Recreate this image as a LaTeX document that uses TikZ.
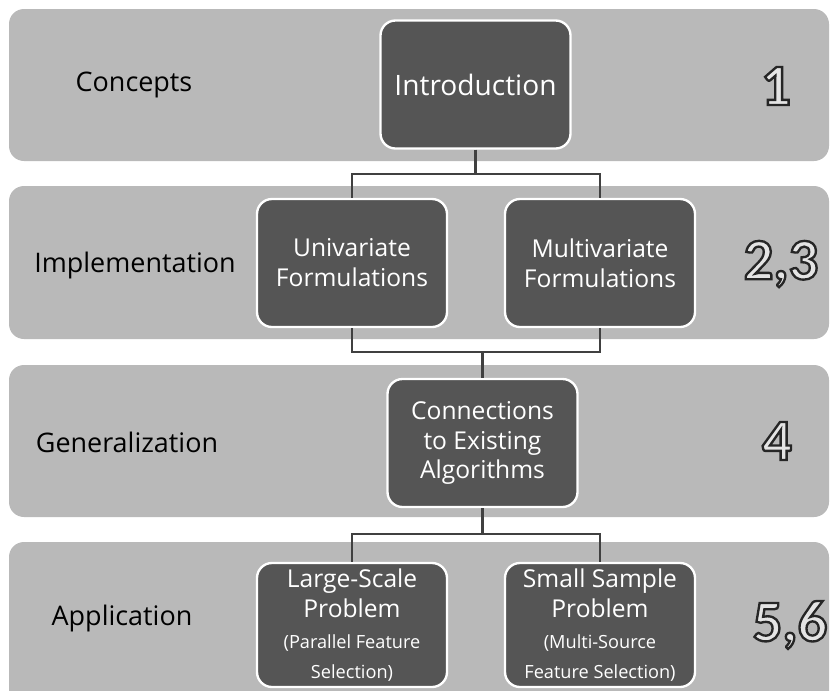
\documentclass[tikz,border=0pt]{standalone}
\usepackage{fontspec}
\setmainfont{Open Sans}
\newfontfamily\numfont{Carlito Bold}
\usepackage{xcolor}
\usetikzlibrary{positioning}

\definecolor{bandgray}{HTML}{B9B9B9}
\definecolor{boxgray}{HTML}{555555}
\definecolor{linkgray}{HTML}{404040}
\definecolor{numfill}{HTML}{E4E4E4}

\newcommand{\subfnt}{\fontsize{15.5}{19.5}\selectfont}
% hollow digits: fill light, stroke dark
\newcommand{\hollow}[1]{\textcolor{numfill}{\special{pdf:literal direct 2 Tr 2 w 0.15 G}#1\special{pdf:literal direct 0 Tr}}}

\begin{document}
\begin{tikzpicture}[x=0.03cm,y=-0.03cm,
    band/.style={fill=bandgray,rounded corners=0.45cm},
    topic/.style={font=\fontsize{23}{27}\selectfont},
    box/.style={draw=white,line width=2pt,fill=boxgray,rounded corners=0.45cm,
        text=white,align=center,minimum width=5.7cm,minimum height=3.84cm,
        inner sep=2pt,font=\fontsize{21}{25.5}\selectfont},
    chap/.style={font=\numfont\fontsize{50}{54}\selectfont},
    link/.style={draw=linkgray,line width=2.5pt}]

\useasboundingbox (0,0) rectangle (831,690);

%bands
\fill[band] (9,9) rectangle (829,161);
\fill[band] (9,186) rectangle (829,339);
\fill[band] (9,365) rectangle (829,517);
\fill[band] (9,542) rectangle (829,710);

%topics
\node[topic] (concepts) at (134,85) {Concepts};
\node[topic] (implem) at (135,265) {Implementation};
\node[topic] (general) at (127,442) {Generalization};
\node[topic] (applic) at (122,618) {Application};

%boxes
\node[box,font=\fontsize{24}{28}\selectfont] (intro) at (475.5,84.5) {Introduction};
\node[box] (univ) at (352,263) {Univariate\\Formulations};
\node[box] (multi) at (600,263) {Multivariate\\Formulations};
\node[box] (conn) at (482.5,443) {Connections\\to Existing\\Algorithms};
\node[box,minimum height=3.72cm] (large) at (352,625)
    {Large-Scale\\Problem\\[1pt]\subfnt (Parallel Feature\\\subfnt Selection)};
\node[box,minimum height=3.72cm] (small) at (600,625)
    {Small Sample\\Problem\\[1pt]\subfnt (Multi-Source\\\subfnt Feature Selection)};

%chapters
\node[chap] (ch1) at (776,86) {\hollow{1}};
\node[chap] (ch23) at (781,264) {\hollow{2,3}};
\node[chap] (ch4) at (777,441) {\hollow{4}};
\node[chap] (ch56) at (790,625) {\hollow{5,6}};

%links
\coordinate (j1) at (0,174);
\coordinate (j2) at (0,352);
\coordinate (j3) at (0,534);

\draw[link] (intro.south) -- (intro.south |- j1);
\draw[link] (univ.north) |- (intro.south |- j1) -| (multi.north);

\draw[link] (univ.south) |- (conn.north |- j2) -| (multi.south);
\draw[link] (conn.north |- j2) -- (conn.north);

\draw[link] (conn.south) -- (conn.south |- j3);
\draw[link] (large.north) |- (conn.south |- j3) -| (small.north);

\end{tikzpicture}
\end{document}
